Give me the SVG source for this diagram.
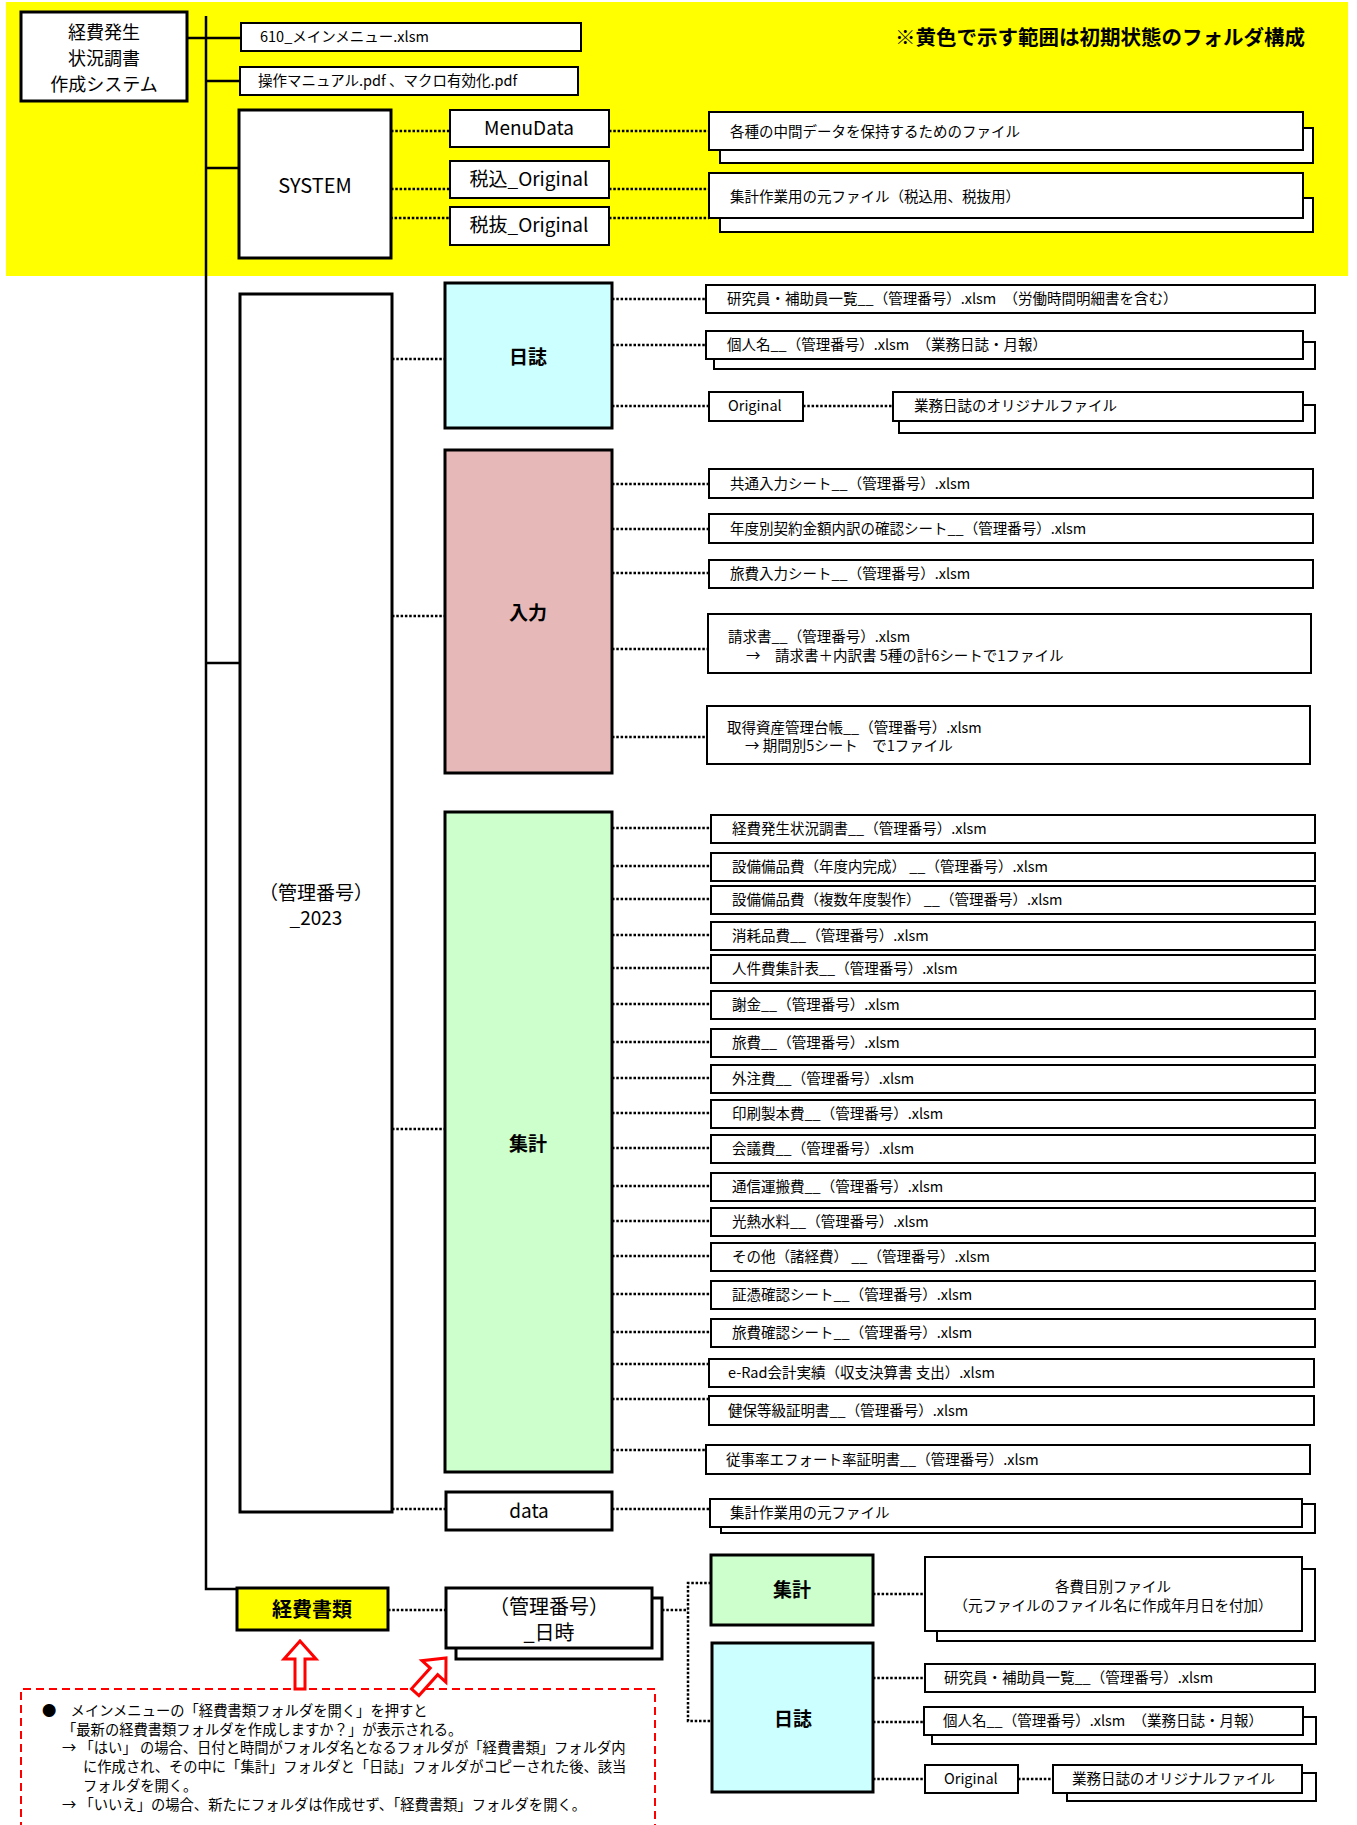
<svg xmlns="http://www.w3.org/2000/svg" width="1357" height="1825" viewBox="0 0 1357 1825">
<style>
text{font-family:"Noto Sans CJK JP","Noto Sans",sans-serif;fill:#000}
.b{fill:#fff;stroke:#000;stroke-width:2}
.m{fill:#fff;stroke:#000;stroke-width:3}
.f{font-size:14.5px}
.c{text-anchor:middle}
.big{font-size:19px}
.bold{font-weight:bold}
.dot{stroke:#000;stroke-width:2.5;stroke-dasharray:2.5 1.8;fill:none}
.sol{stroke:#000;stroke-width:2.5;fill:none}
.red{fill:#fff;stroke:#f00;stroke-width:3}
.rt{font-size:14.3px}
</style>
<rect x="6" y="2" width="1342" height="274" fill="#ffff00"/>

<g id="connectors">
<path class="sol" d="M206,16 V1589 H245"/>
<path class="sol" d="M187,38 H241 M206,81 H240 M206,168 H239 M206,663 H240"/>
<path class="dot" d="M391,131 H450 M391,189 H450 M386,218 H450 M609,131 H709 M609,189 H709 M609,218 H709"/>
<path class="dot" d="M392,359 H445 M392,616 H445 M392,1129 H445 M392,1509 H446"/>
<path class="dot" d="M612,299 H706 M612,345 H706 M612,406 H709 M803,406 H893"/>
<path class="dot" d="M612,484 H709 M612,529 H709 M612,573 H709 M612,649 H708 M612,737 H707"/>
<path class="dot" d="M612,828 H711 M612,866 H711 M612,899 H711 M612,935 H711 M612,968 H711 M612,1004 H711 M612,1042 H711 M612,1078 H711 M612,1113 H711 M612,1148 H711 M612,1186 H711 M612,1221 H711 M612,1256 H711 M612,1294 H711 M612,1332 H711 M612,1364 H709 M612,1399 H709 M612,1450 H706"/>
<path class="dot" d="M612,1509 H710"/>
<path class="dot" d="M388,1610 H446 M662,1610 H688 M711,1583 H688 V1721 H712"/>
<path class="dot" d="M873,1594 H925 M873,1678 H925 M873,1722 H924 M873,1779 H925 M1018,1779 H1053"/>
</g>

<g id="title"><text x="1305" y="45" font-size="20.5" class="bold" text-anchor="end">※黄色で示す範囲は初期状態のフォルダ構成</text></g>

<g id="root"><rect class="m" x="21" y="12" width="166" height="89"/>
<text class="c" x="104" y="39" font-size="18">経費発生</text>
<text class="c" x="104" y="65" font-size="18">状況調書</text>
<text class="c" x="104" y="91" font-size="18">作成システム</text></g>

<g id="mainmenu"><rect class="b" x="241" y="23" width="340" height="28"/><text class="f" x="260" y="42" font-size="14">610_メインメニュー.xlsm</text></g>
<g id="manual"><rect class="b" x="240" y="67" width="338" height="28"/><text class="f" x="258" y="86">操作マニュアル.pdf 、マクロ有効化.pdf</text></g>

<g id="system"><rect class="m" x="239" y="110" width="152" height="148"/><text class="c" x="315" y="193" font-size="20">SYSTEM</text></g>
<g id="menudata"><rect class="b" x="450" y="110" width="159" height="37"/><text class="c big" x="529" y="135">MenuData</text></g>
<g id="zeikomi"><rect class="b" x="450" y="161" width="159" height="37"/><text class="c big" x="529" y="186">税込_Original</text></g>
<g id="zeinuki"><rect class="b" x="450" y="207" width="159" height="38"/><text class="c big" x="529" y="232">税抜_Original</text></g>
<g id="chukan"><rect class="b" x="720" y="128" width="593" height="35"/><rect class="b" x="709" y="112" width="594" height="38"/><text class="f" x="730" y="137">各種の中間データを保持するためのファイル</text></g>
<g id="motofile"><rect class="b" x="720" y="198" width="593" height="34"/><rect class="b" x="709" y="173" width="594" height="45"/><text class="f" x="730" y="202">集計作業用の元ファイル（税込用、税抜用）</text></g>

<g id="kanri2023"><rect class="m" x="240" y="294" width="152" height="1218"/>
<text class="c big" x="316" y="900">（管理番号）</text><text class="c big" x="316" y="925">_2023</text></g>

<g id="nisshi"><rect class="m" x="445" y="283" width="167" height="145" style="fill:#ccffff"/><text class="c big bold" x="528" y="364">日誌</text></g>
<g id="nyuryoku"><rect class="m" x="445" y="450" width="167" height="323" style="fill:#e6b8b7"/><text class="c big bold" x="528" y="620">入力</text></g>
<g id="shukei"><rect class="m" x="445" y="812" width="167" height="660" style="fill:#ccffcc"/><text class="c big bold" x="528" y="1151">集計</text></g>
<g id="data"><rect class="m" x="446" y="1492" width="166" height="38"/><text class="c big" x="529" y="1518">data</text></g>

<g id="n-kenkyuin"><rect class="b" x="706" y="285" width="609" height="28"/><text class="f" x="727" y="304">研究員・補助員一覧__（管理番号）.xlsm　（労働時間明細書を含む）</text></g>
<g id="n-kojin"><rect class="b" x="714" y="342" width="601" height="27"/><rect class="b" x="706" y="331" width="597" height="28"/><text class="f" x="727" y="350">個人名__（管理番号）.xlsm　（業務日誌・月報）</text></g>
<g id="n-original"><rect class="b" x="709" y="392" width="94" height="29"/><text class="f" x="728" y="411" font-size="14">Original</text></g>
<g id="n-gyomu"><rect class="b" x="899" y="405" width="416" height="28"/><rect class="b" x="893" y="392" width="410" height="29"/><text class="f" x="914" y="411">業務日誌のオリジナルファイル</text></g>

<g id="i-kyotsu"><rect class="b" x="709" y="469" width="604" height="29"/><text class="f" x="730" y="489">共通入力シート__（管理番号）.xlsm</text></g>
<g id="i-nendo"><rect class="b" x="709" y="514" width="604" height="29"/><text class="f" x="730" y="534">年度別契約金額内訳の確認シート__（管理番号）.xlsm</text></g>
<g id="i-ryohi"><rect class="b" x="709" y="560" width="604" height="28"/><text class="f" x="730" y="579">旅費入力シート__（管理番号）.xlsm</text></g>
<g id="i-seikyu"><rect class="b" x="708" y="614" width="603" height="59"/><text class="f" x="728" y="642">請求書__（管理番号）.xlsm</text><text class="f" x="746" y="661">→　請求書＋内訳書 5種の計6シートで1ファイル</text></g>
<g id="i-shutoku"><rect class="b" x="707" y="706" width="603" height="58"/><text class="f" x="727" y="733">取得資産管理台帳__（管理番号）.xlsm</text><text class="f" x="745" y="751">→ 期間別5シート　で1ファイル</text></g>

<g id="s01"><rect class="b" x="711" y="815" width="604" height="28"/><text class="f" x="732" y="834">経費発生状況調書__（管理番号）.xlsm</text></g>
<g id="s02"><rect class="b" x="711" y="853" width="604" height="28"/><text class="f" x="732" y="872">設備備品費（年度内完成） __（管理番号）.xlsm</text></g>
<g id="s03"><rect class="b" x="711" y="886" width="604" height="28"/><text class="f" x="732" y="905">設備備品費（複数年度製作） __（管理番号）.xlsm</text></g>
<g id="s04"><rect class="b" x="711" y="922" width="604" height="28"/><text class="f" x="732" y="941">消耗品費__（管理番号）.xlsm</text></g>
<g id="s05"><rect class="b" x="711" y="955" width="604" height="28"/><text class="f" x="732" y="974">人件費集計表__（管理番号）.xlsm</text></g>
<g id="s06"><rect class="b" x="711" y="991" width="604" height="28"/><text class="f" x="732" y="1010">謝金__（管理番号）.xlsm</text></g>
<g id="s07"><rect class="b" x="711" y="1029" width="604" height="28"/><text class="f" x="732" y="1048">旅費__（管理番号）.xlsm</text></g>
<g id="s08"><rect class="b" x="711" y="1065" width="604" height="28"/><text class="f" x="732" y="1084">外注費__（管理番号）.xlsm</text></g>
<g id="s09"><rect class="b" x="711" y="1100" width="604" height="28"/><text class="f" x="732" y="1119">印刷製本費__（管理番号）.xlsm</text></g>
<g id="s10"><rect class="b" x="711" y="1135" width="604" height="28"/><text class="f" x="732" y="1154">会議費__（管理番号）.xlsm</text></g>
<g id="s11"><rect class="b" x="711" y="1173" width="604" height="28"/><text class="f" x="732" y="1192">通信運搬費__（管理番号）.xlsm</text></g>
<g id="s12"><rect class="b" x="711" y="1208" width="604" height="28"/><text class="f" x="732" y="1227">光熱水料__（管理番号）.xlsm</text></g>
<g id="s13"><rect class="b" x="711" y="1243" width="604" height="28"/><text class="f" x="732" y="1262">その他（諸経費） __（管理番号）.xlsm</text></g>
<g id="s14"><rect class="b" x="711" y="1281" width="604" height="28"/><text class="f" x="732" y="1300">証憑確認シート__（管理番号）.xlsm</text></g>
<g id="s15"><rect class="b" x="711" y="1319" width="604" height="28"/><text class="f" x="732" y="1338">旅費確認シート__（管理番号）.xlsm</text></g>
<g id="s16"><rect class="b" x="709" y="1359" width="605" height="28"/><text class="f" x="728" y="1378">e-Rad会計実績（収支決算書 支出）.xlsm</text></g>
<g id="s17"><rect class="b" x="709" y="1396" width="605" height="29"/><text class="f" x="728" y="1416">健保等級証明書__（管理番号）.xlsm</text></g>
<g id="s18"><rect class="b" x="706" y="1445" width="604" height="29"/><text class="f" x="726" y="1465">従事率エフォート率証明書__（管理番号）.xlsm</text></g>
<g id="d-moto"><rect class="b" x="721" y="1504" width="594" height="29"/><rect class="b" x="710" y="1499" width="592" height="28"/><text class="f" x="730" y="1518">集計作業用の元ファイル</text></g>

<g id="keihi"><rect class="m" x="237" y="1588" width="151" height="42" style="fill:#ffff00"/><text class="c bold" x="312" y="1617" font-size="20">経費書類</text></g>
<g id="nichiji"><rect class="m" x="456" y="1598" width="206" height="61"/><rect class="m" x="446" y="1588" width="206" height="60"/>
<text class="c" x="549" y="1614" font-size="20">（管理番号）</text><text class="c" x="549" y="1640" font-size="20">_日時</text></g>
<g id="b-shukei"><rect class="m" x="711" y="1555" width="162" height="70" style="fill:#ccffcc"/><text class="c big bold" x="792" y="1597">集計</text></g>
<g id="b-nisshi"><rect class="m" x="712" y="1643" width="161" height="149" style="fill:#ccffff"/><text class="c big bold" x="793" y="1726">日誌</text></g>
<g id="b-hiboku"><rect class="b" x="937" y="1569" width="378" height="72"/><rect class="b" x="925" y="1557" width="377" height="74"/>
<text class="f c" x="1113" y="1592">各費目別ファイル</text><text class="f c" x="1113" y="1611">（元ファイルのファイル名に作成年月日を付加）</text></g>
<g id="b-kenkyuin"><rect class="b" x="925" y="1664" width="390" height="28"/><text class="f" x="944" y="1683">研究員・補助員一覧__（管理番号）.xlsm</text></g>
<g id="b-kojin"><rect class="b" x="932" y="1717" width="384" height="27"/><rect class="b" x="924" y="1707" width="379" height="28"/><text class="f" x="943" y="1726">個人名__（管理番号）.xlsm　（業務日誌・月報）</text></g>
<g id="b-original"><rect class="b" x="925" y="1765" width="93" height="28"/><text class="f" x="944" y="1784" font-size="14">Original</text></g>
<g id="b-gyomu"><rect class="b" x="1067" y="1773" width="249" height="28"/><rect class="b" x="1053" y="1765" width="249" height="28"/><text class="f" x="1072" y="1784">業務日誌のオリジナルファイル</text></g>

<g id="note">
<path d="M21,1830 V1689 H655 V1830" fill="none" stroke="#f00" stroke-width="2" stroke-dasharray="8 5"/>
<polygon class="red" points="300,1641 316,1659 305,1659 305,1689 295,1689 295,1659 284,1659"/>
<polygon class="red" transform="translate(446,1658) rotate(42)" points="0,0 16,18 5,18 5,46 -5,46 -5,18 -16,18"/>
<text class="rt" x="42" y="1716">●　メインメニューの「経費書類フォルダを開く」を押すと</text>
<text class="rt" x="62" y="1735">「最新の経費書類フォルダを作成しますか？」が表示される。</text>
<text class="rt" x="62" y="1753">→ 「はい」 の場合、日付と時間がフォルダ名となるフォルダが「経費書類」フォルダ内</text>
<text class="rt" x="83" y="1772">に作成され、その中に「集計」フォルダと「日誌」フォルダがコピーされた後、該当</text>
<text class="rt" x="83" y="1791">フォルダを開く。</text>
<text class="rt" x="62" y="1810">→ 「いいえ」の場合、新たにフォルダは作成せず、「経費書類」フォルダを開く。</text>
</g>
</svg>
